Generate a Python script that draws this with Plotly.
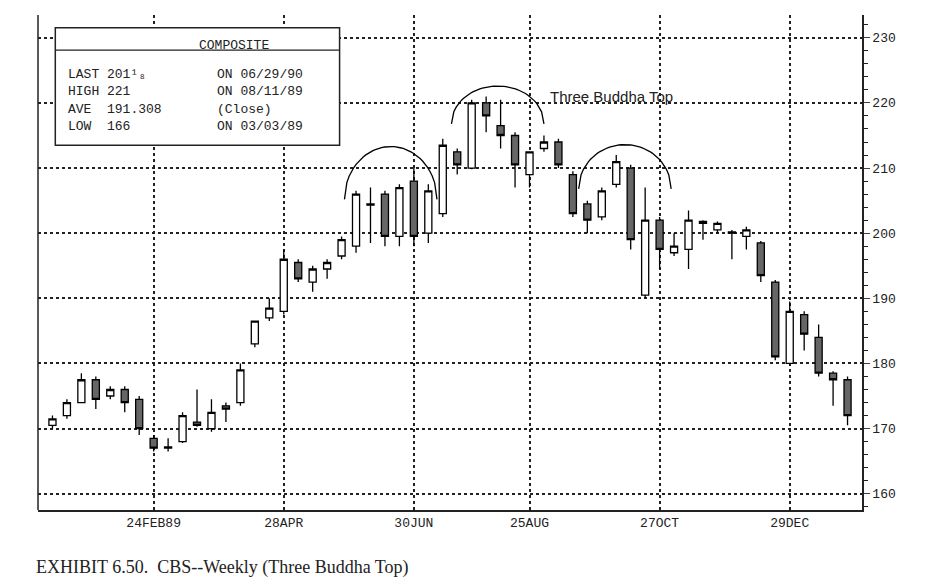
import numpy as np
import pandas as pd
import plotly.graph_objects as go

# weekly candles, CBS, week ending Fridays from 06 Jan 1989
opens = [170.5, 172, 174, 177.5, 175, 176, 174.5, 168.5, 167, 168, 171, 170, 173.5, 174,
         183, 187, 188, 195.5, 192.5, 194.5, 196.5, 198, 204.5, 206, 199.5, 208, 200, 203,
         212.5, 210, 220, 216.5, 215, 209, 213, 214, 209, 204.5, 202.5, 207.5, 210, 190.5,
         202, 197, 197.5, 201.5, 200.5, 200.2, 199.5, 198.5, 192.5, 180, 187.5, 184, 178.5, 177.5]
highs = [172, 174.5, 178.5, 178, 176.5, 176.5, 175, 169, 168.5, 172.5, 176, 174.5, 174, 180,
         186.5, 190, 197.5, 196, 195, 196, 199.5, 206.5, 207, 206.5, 207.5, 210, 207.5, 214.5,
         213, 220.5, 221, 220.5, 215.5, 212.5, 215, 214.5, 209.5, 205, 207, 212, 210.5, 207,
         202.5, 200, 203.5, 202, 201.8, 200.5, 201, 198.8, 192.8, 189.5, 188, 186, 178.8, 178]
lows = [170, 171.5, 174, 173, 174.5, 172.5, 169, 166.5, 166.5, 167.8, 170.3, 169.5, 171, 173.5,
        182.5, 186.5, 187.5, 192.5, 191, 193, 196, 197, 198.5, 198, 198, 198, 198.5, 202.5,
        209, 209.8, 215.5, 213, 207, 207, 212.5, 210, 202.5, 200, 202, 207, 197.5, 190,
        194.5, 196.5, 194.5, 199, 200, 196, 197.5, 192.5, 180.5, 179.8, 182, 178, 173.5, 170.5]
closes = [171.5, 174, 177.5, 174.5, 176, 174, 170, 167, 167.2, 172, 170.5, 172.5, 173, 179,
          186.5, 188.5, 196, 193, 194.5, 195.5, 199, 206, 204.3, 199.5, 207, 199.5, 206.5, 213.5,
          210.5, 220, 218, 215, 210.5, 212.5, 214, 210.5, 203, 202, 206.5, 211, 199, 202,
          197.5, 198, 202, 201.8, 201.5, 200, 200.5, 193.5, 181, 188, 184.5, 178.5, 177.5, 172]
weeks = pd.date_range("1989-01-06", periods=len(opens), freq="7D")

tick_dates = ["1989-02-24", "1989-04-28", "1989-06-30", "1989-08-25", "1989-10-27", "1989-12-29"]
tick_text = ["24FEB89", "28APR", "30JUN", "25AUG", "27OCT", "29DEC"]
price_ticks = [160, 170, 180, 190, 200, 210, 220, 230]

# the three arcs: centre week index, peak price, end price
arc_centres = [23.4, 30.8, 39.6]
arc_peaks = [213.3, 222.6, 213.6]
arc_ends = [205.2, 216.8, 206.8]
arc_half = 3.2

fig = go.Figure()
fig.add_trace(go.Candlestick(
    x=weeks, open=opens, high=highs, low=lows, close=closes,
    increasing=dict(line=dict(color="black", width=1.3), fillcolor="white"),
    decreasing=dict(line=dict(color="black", width=1.3), fillcolor="#666666"),
    whiskerwidth=0, showlegend=False, hoverinfo="skip"))

for c, pk, en in zip(arc_centres, arc_peaks, arc_ends):
    t = np.linspace(-1, 1, 40)
    xs = weeks[0] + pd.to_timedelta((c + t * arc_half) * 7, unit="D")
    ys = en + (pk - en) * np.sqrt(1 - t ** 2)
    fig.add_trace(go.Scatter(x=xs, y=ys, mode="lines", line=dict(color="black", width=1.3),
                             showlegend=False, hoverinfo="skip"))

font = dict(family="Liberation Mono, DejaVu Sans Mono", size=13, color="#222")
fig.update_layout(
    width=949, height=582, margin=dict(l=30, r=95, t=7, b=80),
    plot_bgcolor="white", paper_bgcolor="white",
    xaxis=dict(type="date", range=["1988-12-30", "1990-02-02"], rangeslider=dict(visible=False),
               tickvals=tick_dates, ticktext=tick_text, tickfont=font,
               showgrid=True, gridcolor="#222", griddash="dot", gridwidth=1.6,
               showline=True, linecolor="#222", linewidth=1.5, ticks="", mirror=False),
    yaxis=dict(side="right", range=[157.5, 233.5], tickvals=price_ticks, tickfont=font,
               showgrid=True, gridcolor="#222", griddash="dot", gridwidth=1.6,
               showline=True, linecolor="#222", linewidth=1.5, ticks="outside", ticklen=6,
               minor=dict(dtick=2, ticks="outside", ticklen=4, tickcolor="#222"),
               zeroline=False),
)
# left border
fig.add_shape(type="line", xref="paper", yref="paper", x0=0, x1=0, y0=0, y1=1,
              line=dict(color="#222", width=1.5))
# composite box
fig.add_shape(type="rect", xref="paper", yref="paper", x0=0.021, x1=0.366, y0=0.737, y1=0.974,
              line=dict(color="#222", width=1.5), fillcolor="white", layer="above")
fig.add_shape(type="line", xref="paper", yref="paper", x0=0.021, x1=0.366, y0=0.929, y1=0.929,
              line=dict(color="#222", width=1.3))
box_font = dict(family="Liberation Mono, DejaVu Sans Mono", size=13, color="#222")
fig.add_annotation(xref="paper", yref="paper", x=0.193, y=0.958, text="COMPOSITE",
                   showarrow=False, font=box_font)
rows_left = ["LAST 201¹₈", "HIGH 221", "AVE  191.308", "LOW  166"]
rows_right = ["ON 06/29/90", "ON 08/11/89", "(Close)", "ON 03/03/89"]
for i, (a, b) in enumerate(zip(rows_left, rows_right)):
    yy = (510 - (72 + i * 17.3)) / 495 + 0.014
    fig.add_annotation(xref="paper", yref="paper", x=(66 - 38) / 824, y=yy, text=a, xanchor="left",
                       showarrow=False, font=box_font)
    fig.add_annotation(xref="paper", yref="paper", x=(215 - 38) / 824, y=yy, text=b, xanchor="left",
                       showarrow=False, font=box_font)
fig.add_annotation(x=weeks[0] + pd.Timedelta(days=7 * 38.7), y=221.0, text="Three Buddha Top",
                   showarrow=False, font=dict(family="Liberation Sans, Arial", size=15, color="#222"))
fig.add_annotation(xref="paper", yref="paper", x=-0.005, y=-0.117, xanchor="left", yanchor="middle",
                   text="EXHIBIT 6.50.  CBS--Weekly (Three Buddha Top)", showarrow=False,
                   font=dict(family="Liberation Serif, Times New Roman", size=18, color="#222"))
fig.write_html("out.html")
